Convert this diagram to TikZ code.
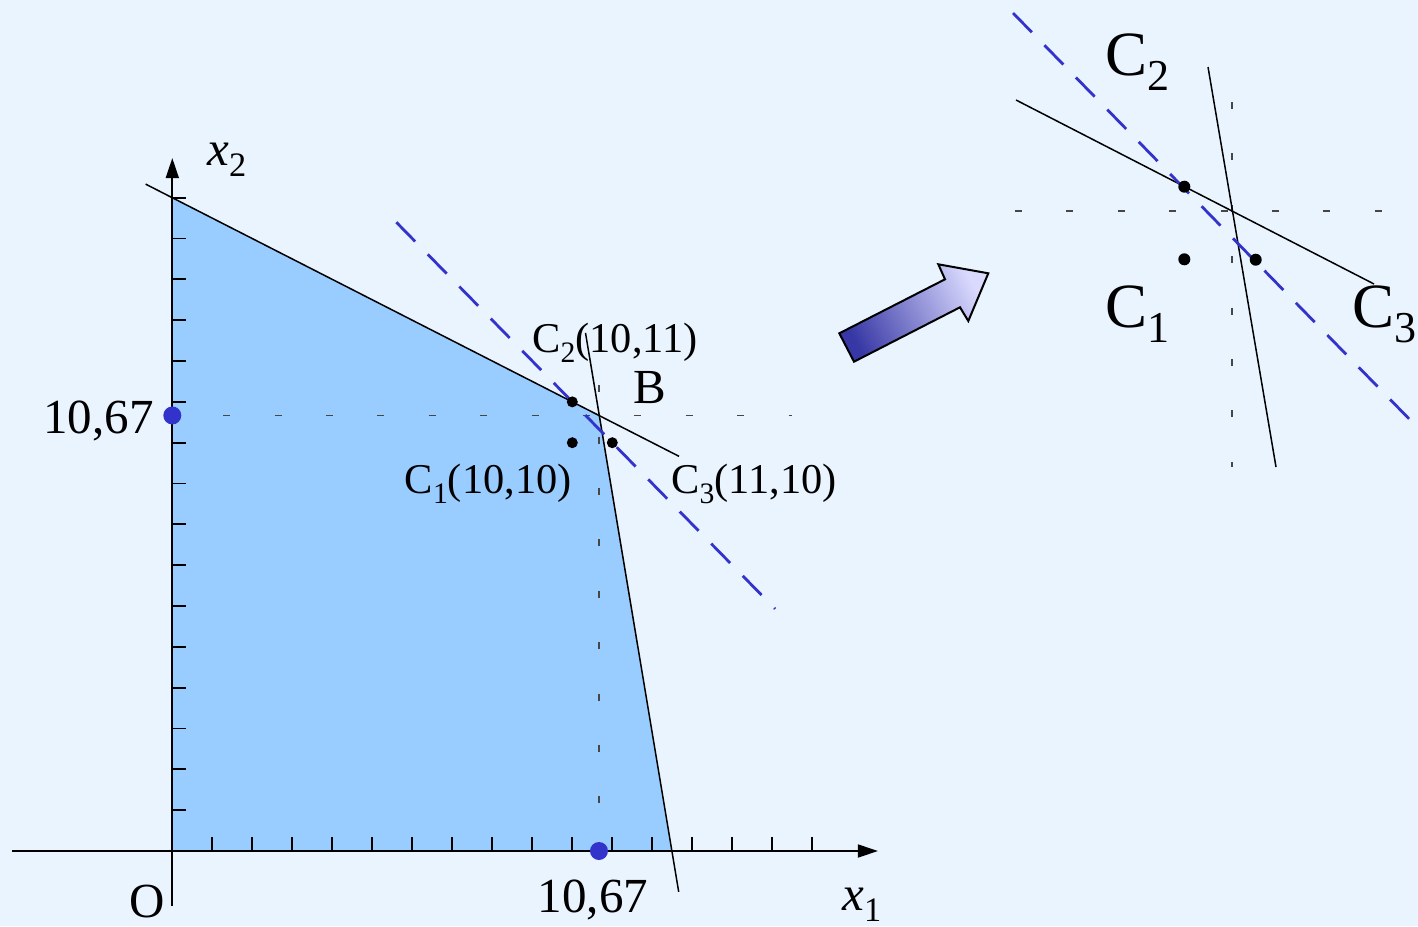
\documentclass[tikz,border=0pt]{standalone}
\usepackage{fontspec}
\setmainfont{Liberation Serif}
\newfontfamily\tnr{Liberation Serif}
\usepackage{graphicx}
\usetikzlibrary{arrows.meta}
\definecolor{bgc}{RGB}{234,244,254}
\definecolor{regc}{RGB}{153,204,255}
\definecolor{dotblue}{RGB}{51,51,204}
\definecolor{dashblue}{RGB}{51,51,204}
\definecolor{guidec}{RGB}{70,70,70}
\definecolor{arrdark}{RGB}{55,55,165}
\definecolor{arrlight}{RGB}{218,218,255}
\newcommand\ssub[1]{\raisebox{-0.24em}{\scalebox{0.7}{#1}}}
\begin{document}
\begin{tikzpicture}[x=0.5pt,y=-0.5pt,
  axisline/.style={line width=0.9pt},
  thinline/.style={line width=0.75pt},
  guide/.style={guidec, line width=0.7pt, dash pattern=on 3.5pt off 22.2pt},
  optline/.style={dashblue, line width=1.4pt, dash pattern=on 13.5pt off 9pt},
  bigtxt/.style={font=\tnr\fontsize{24.5}{28}\selectfont, inner sep=0pt},
  midtxt/.style={font=\tnr\fontsize{21.2}{25}\selectfont, inner sep=0pt},
  instxt/.style={font=\tnr\fontsize{31.5}{36}\selectfont, inner sep=0pt},
  bdot/.style={circle, fill=black, inner sep=0pt, minimum size=5.5pt},
  idot/.style={circle, fill=black, inner sep=0pt, minimum size=6pt},
  bluedot/.style={circle, fill=dotblue, inner sep=0pt, minimum size=9pt},
  axtip/.style={-{Triangle[length=10pt,width=6.5pt]}}]
\fill[bgc] (0,0) rectangle (1418,926);
\useasboundingbox (0,0) rectangle (1418,926);
% main graph
\begin{scope}[shift={(86.15pt,-425.5pt)}, x=20pt, y=20.415pt]
  \coordinate (O) at (0,0);
  \coordinate (B) at (10.667,10.667);
  \coordinate (Y16) at (0,16);
  \coordinate (XR) at (12.49,0);
  \coordinate (L1a) at (-0.667,16.333);
  \coordinate (L1b) at (12.667,9.667);
  \coordinate (L2a) at (10.33,12.69);
  \coordinate (L2b) at (12.66,-1.0);
  \coordinate (Da) at (5.6,15.4);
  \coordinate (Db) at (15.07,5.93);
  \fill[regc] (O) -- (Y16) -- (B) -- (XR) -- cycle;
  \coordinate (Hl) at (1.27,10.667);
  \coordinate (Hr) at (15.5,10.667);
  \coordinate (Vt) at (10.667,11.41);
  \draw[guide] (Hl) -- (Hr);
  \draw[guide] (Vt) -- (10.667,0);
  \foreach \k in {1,...,16} {
    \draw[axisline] (\k,0) -- (\k,0.343);
    \draw[axisline] (0,\k) -- (0.35,\k);
  }
  \coordinate (Xl) at (-4.01,0);
  \coordinate (Xt) at (17.64,0);
  \coordinate (Yb) at (0,-1.35);
  \coordinate (Yt) at (0,16.97);
  \draw[axisline, axtip] (Xl) -- (Xt);
  \draw[axisline, axtip] (Yb) -- (Yt);
  \draw[thinline] (L1a) -- (L1b);
  \draw[thinline] (L2a) -- (L2b);
  \draw[optline] (Da) -- (Db);
  \node[bdot] (C1) at (10,10) {};
  \node[bdot] (C2) at (10,11) {};
  \node[bdot] (C3) at (11,10) {};
  \node[bluedot] (By) at (0,10.667) {};
  \node[bluedot] (Bx) at (10.667,0) {};
\end{scope}
% labels
\node[bigtxt, anchor=base west] (lx2) at (207,165) {\textit{x}\ssub{2}};
\node[bigtxt, anchor=base west] (lx1) at (842,910) {\textit{x}\ssub{1}};
\node[bigtxt, anchor=base] (lO) at (147,917) {O};
\node[bigtxt, anchor=base] (lxv) at (593,912) {10,67};
\node[bigtxt, anchor=base east] (lyv) at (154,433) {10,67};
\node[bigtxt, anchor=base west] (lB) at (633,403) {B};
\node[midtxt, anchor=base west] (lC2) at (532,352) {C\ssub{2}(10,11)};
\node[midtxt, anchor=base west] (lC3) at (671,493) {C\ssub{3}(11,10)};
\node[midtxt, anchor=base east] (lC1) at (572,493) {C\ssub{1}(10,10)};
% arrow
\shade[draw=black, line width=1pt, left color=arrdark, right color=arrlight, shading angle=117]
  (839.3,333.3) -- (854,361.7) -- (960,307.3) -- (968.3,321) -- (988.3,273.3)
  -- (938.3,264.3) -- (945,279.3) -- cycle;
% inset
\coordinate (IHl) at (1015,211);
\coordinate (IHr) at (1390,211);
\coordinate (IVt) at (1232,102);
\coordinate (IVb) at (1232,467);
\draw[guide] (IHl) -- (IHr);
\draw[guide] (IVt) -- (IVb);
\coordinate (I1a) at (1016,100);
\coordinate (I1b) at (1374,284);
\coordinate (I2a) at (1208,67);
\coordinate (I2b) at (1276,467);
\coordinate (IDa) at (1013,13);
\coordinate (IDb) at (1418,428);
\draw[thinline] (I1a) -- (I1b);
\draw[thinline] (I2a) -- (I2b);
\draw[optline] (IDa) -- (IDb);
\node[idot] (iC2) at (1184.3,186.7) {};
\node[idot] (iC1) at (1184.3,259.3) {};
\node[idot] (iC3) at (1255.7,259.7) {};
\node[instxt, anchor=base west] (liC2) at (1105,75) {C\ssub{2}};
\node[instxt, anchor=base west] (liC1) at (1105,327) {C\ssub{1}};
\node[instxt, anchor=base west] (liC3) at (1352,327) {C\ssub{3}};
\end{tikzpicture}
\end{document}
